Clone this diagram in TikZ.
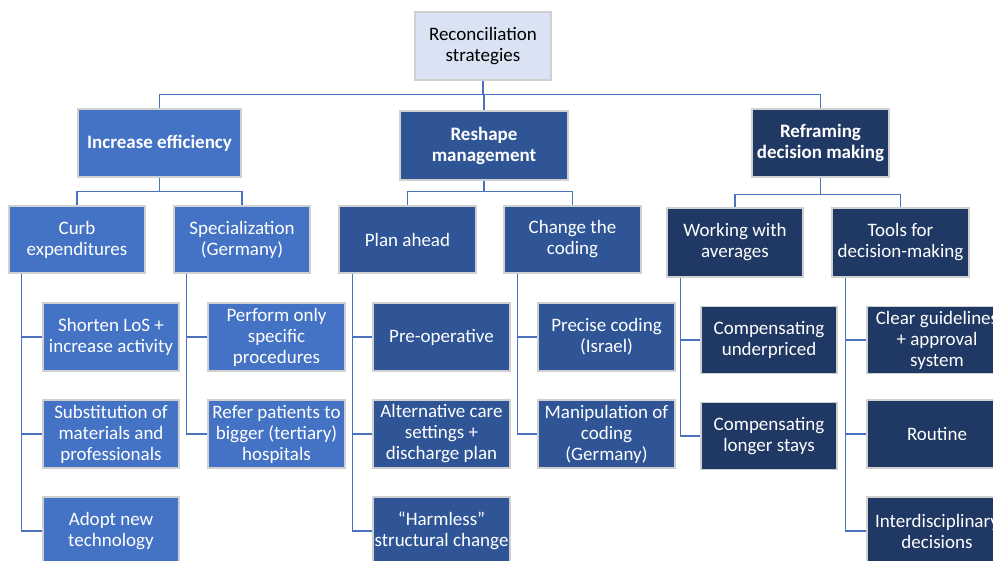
\documentclass[tikz,border=0pt]{standalone}
\usepackage{fontspec}
\setmainfont{Carlito}
\definecolor{rootfill}{HTML}{DAE3F3}
\definecolor{colA}{HTML}{4472C4}
\definecolor{colB}{HTML}{2F5597}
\definecolor{colC}{HTML}{203864}
\definecolor{linec}{HTML}{4A72BF}
\definecolor{edgec}{HTML}{D0D0D0}
\tikzset{
  box/.style={draw=edgec, line width=1.2bp, rectangle, align=center, text=white,
    inner sep=1bp, minimum width=136bp, minimum height=68bp,
    font=\fontsize{19bp}{21bp}\selectfont},
  boxA/.style={box, fill=colA},
  boxB/.style={box, fill=colB},
  boxC/.style={box, fill=colC},
  rootbox/.style={box, fill=rootfill, text=black},
  headbox/.style={font=\fontsize{19bp}{21bp}\selectfont\bfseries},
  conn/.style={draw=linec, line width=1.4bp},
}
\begin{document}
\begin{tikzpicture}[x=1bp,y=-1bp]
\useasboundingbox (0,0) rectangle (993,561);
\clip (0,0) rectangle (993,561);
% root
\node[rootbox] (root) at (483,46) {Reconciliation\\strategies};
% level 1
\node[boxA,headbox,minimum width=163bp] (ie) at (159.5,143) {Increase efficiency};
\node[boxB,headbox,minimum width=168bp,minimum height=69bp] (rm) at (484,145.5) {Reshape\\management};
\node[boxC,headbox,minimum width=137bp] (rf) at (820.5,143) {Reframing\\decision making};
% level 2
\node[boxA,minimum height=67bp] (curb) at (77,239.5) {Curb\\expenditures};
\node[boxA,minimum height=67bp] (spec) at (242,239.5) {Specialization\\(Germany)};
\node[boxB,minimum height=67bp,minimum width=137bp] (plan) at (407.5,239.5) {Plan ahead};
\node[boxB,minimum height=67bp,minimum width=137bp] (chg) at (572.5,239.5) {Change the\\coding};
\node[boxC,minimum height=69bp] (work) at (735,242.5) {Working with\\averages};
\node[boxC,minimum height=69bp,minimum width=137bp] (tools) at (900.5,242.5) {Tools for\\decision-making};
% level 3, column 1
\node[boxA] (shorten) at (111,337) {Shorten LoS +\\increase activity};
\node[boxA] (subst) at (111,434) {Substitution of\\materials and\\professionals};
\node[boxA] (adopt) at (111,531) {Adopt new\\technology};
% column 2
\node[boxA,minimum width=137bp] (perform) at (276.5,337) {Perform only\\specific\\procedures};
\node[boxA,minimum width=137bp] (refer) at (276.5,434) {Refer patients to\\bigger (tertiary)\\hospitals};
% column 3
\node[boxB,minimum width=137bp] (preop) at (441.5,337) {Pre-operative};
\node[boxB,minimum width=137bp] (alt) at (441.5,434) {Alternative care\\settings +\\discharge plan};
\node[boxB,minimum width=137bp] (harm) at (441.5,531) {“Harmless”\\structural change};
% column 4
\node[boxB,minimum width=137bp] (precise) at (606.5,337) {Precise coding\\(Israel)};
\node[boxB,minimum width=137bp] (manip) at (606.5,434) {Manipulation of\\coding\\(Germany)};
% column 5
\node[boxC,minimum height=67bp] (cu) at (769,340) {Compensating\\underpriced};
\node[boxC,minimum height=67bp] (cl) at (769,436) {Compensating\\longer stays};
% column 6
\node[boxC,minimum height=67bp,minimum width=140bp] (clear) at (937,340) {Clear guidelines\\+ approval\\system};
\node[boxC,minimum width=140bp] (routine) at (937,434) {Routine};
\node[boxC,minimum width=140bp] (inter) at (937,531) {Interdisciplinary\\decisions};
% connectors level 1
\draw[conn] (root.south) -- ++(0,14) -| (ie.north);
\draw[conn] (root.south) -- ++(0,14) -| (rm.north);
\draw[conn] (root.south) -- ++(0,14) -| (rf.north);
% connectors level 2
\draw[conn] (ie.south) -- ++(0,14) -| (curb.north);
\draw[conn] (ie.south) -- ++(0,14) -| (spec.north);
\draw[conn] (rm.south) -- ++(0,11) -| (plan.north);
\draw[conn] (rm.south) -- ++(0,11) -| (chg.north);
\draw[conn] (rf.south) -- ++(0,17) -| (work.north);
\draw[conn] (rf.south) -- ++(0,17) -| (tools.north);
% connectors level 3
\draw[conn] ([xshift=13bp]curb.south west) |- (shorten.west);
\draw[conn] ([xshift=13bp]curb.south west) |- (subst.west);
\draw[conn] ([xshift=13bp]curb.south west) |- (adopt.west);
\draw[conn] ([xshift=13bp]spec.south west) |- (perform.west);
\draw[conn] ([xshift=13bp]spec.south west) |- (refer.west);
\draw[conn] ([xshift=14bp]plan.south west) |- (preop.west);
\draw[conn] ([xshift=14bp]plan.south west) |- (alt.west);
\draw[conn] ([xshift=14bp]plan.south west) |- (harm.west);
\draw[conn] ([xshift=14bp]chg.south west) |- (precise.west);
\draw[conn] ([xshift=14bp]chg.south west) |- (manip.west);
\draw[conn] ([xshift=14bp]work.south west) |- (cu.west);
\draw[conn] ([xshift=14bp]work.south west) |- (cl.west);
\draw[conn] ([xshift=14bp]tools.south west) |- (clear.west);
\draw[conn] ([xshift=14bp]tools.south west) |- (routine.west);
\draw[conn] ([xshift=14bp]tools.south west) |- (inter.west);
\end{tikzpicture}
\end{document}
